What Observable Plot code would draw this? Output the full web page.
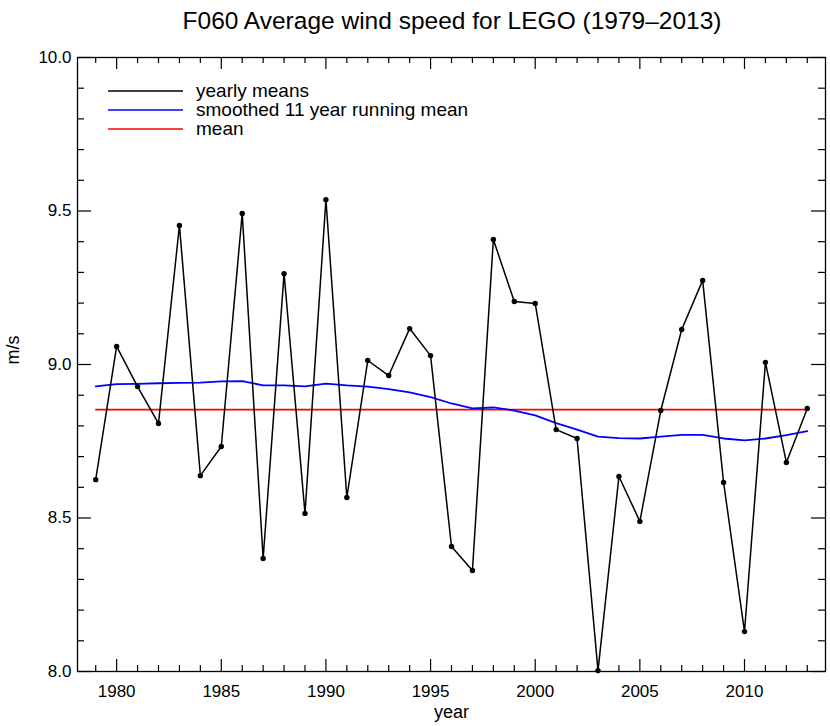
<!DOCTYPE html>
<html>
<head>
<meta charset="utf-8">
<script src="https://cdn.jsdelivr.net/npm/d3@7"></script>
<script src="https://cdn.jsdelivr.net/npm/@observablehq/plot@0.6"></script>
<style>
  html, body { margin: 0; padding: 0; background: #fff; }
  #wrap { position: relative; width: 830px; height: 726px; font-family: "Liberation Sans", Arial, sans-serif; color: #000; }
  #title { position: absolute; left: 452px; top: 7px; transform: translateX(-50%); white-space: nowrap; font-size: 24.5px; line-height: 28px; }
  #chart { position: absolute; left: 0; top: 40px; }
  #legend { position: absolute; left: 108px; top: 81px; font-size: 19px; }
  .item { display: flex; align-items: center; height: 19px; }
  .item svg { margin-right: 13px; }
</style>
</head>
<body>
<div id="wrap">
  <div id="title">F060 Average wind speed for LEGO (1979–2013)</div>
  <div id="chart"></div>
  <div id="legend"></div>
</div>
<script>
// ---- data ----
const years = [1979, 1980, 1981, 1982, 1983, 1984, 1985, 1986, 1987, 1988, 1989, 1990, 1991, 1992, 1993, 1994, 1995, 1996, 1997, 1998, 1999, 2000, 2001, 2002, 2003, 2004, 2005, 2006, 2007, 2008, 2009, 2010, 2011, 2012, 2013];
const yearlyMeans = [8.625, 9.059, 8.928, 8.808, 9.453, 8.638, 8.733, 9.492, 8.368, 9.296, 8.515, 9.537, 8.567, 9.013, 8.964, 9.117, 9.029, 8.407, 8.329, 9.407, 9.205, 9.199, 8.788, 8.759, 8.003, 8.635, 8.489, 8.850, 9.114, 9.274, 8.616, 8.130, 9.007, 8.681, 8.857];
const smoothedMean = [8.929, 8.936, 8.937, 8.939, 8.940, 8.941, 8.945, 8.946, 8.932, 8.932, 8.929, 8.938, 8.932, 8.928, 8.920, 8.909, 8.894, 8.873, 8.857, 8.860, 8.850, 8.834, 8.809, 8.788, 8.765, 8.760, 8.759, 8.765, 8.771, 8.771, 8.759, 8.753, 8.759, 8.770, 8.783];
const overallMean = 8.853;

// ---- ticks ----
const xMajorTicks = [1980, 1985, 1990, 1995, 2000, 2005, 2010];
const xMinorTicks = [1979, 1981, 1982, 1983, 1984, 1986, 1987, 1988, 1989, 1991, 1992, 1993, 1994, 1996, 1997, 1998, 1999, 2001, 2002, 2003, 2004, 2006, 2007, 2008, 2009, 2011, 2012, 2013];
const yMajorTicks = [8.0, 8.5, 9.0, 9.5, 10.0];
const yMinorTicks = [8.1, 8.2, 8.3, 8.4, 8.6, 8.7, 8.8, 8.9, 9.1, 9.2, 9.3, 9.4, 9.6, 9.7, 9.8, 9.9];

// ---- legend entries ----
const legendLabels = ["yearly means", "smoothed 11 year running mean", "mean"];
const legendColors = ["#000000", "#0000ff", "#ff0000"];

const rows = years.map((yr, i) => ({year: yr, value: yearlyMeans[i], smooth: smoothedMean[i]}));

const W = 830, H = 686, ML = 77, MR = 5, MT = 17, MB = 55;
const innerW = W - ML - MR, innerH = H - MT - MB;
const tk = {stroke: "#000", strokeWidth: 1.2};

const chart = Plot.plot({
  width: W,
  height: H,
  marginLeft: ML,
  marginRight: MR,
  marginTop: MT,
  marginBottom: MB,
  style: {fontFamily: "Liberation Sans, Arial, sans-serif", fontSize: "17px", color: "#000", background: "#fff"},
  x: {domain: [1978.13, 2013.87], axis: null},
  y: {domain: [8, 10], axis: null},
  marks: [
    // bottom / top year ticks (inward)
    Plot.tickX(xMajorTicks, {x: d => d, insetTop: innerH - 12, ...tk}),
    Plot.tickX(xMinorTicks, {x: d => d, insetTop: innerH - 6, ...tk}),
    Plot.tickX(xMajorTicks, {x: d => d, insetBottom: innerH - 12, ...tk}),
    Plot.tickX(xMinorTicks, {x: d => d, insetBottom: innerH - 6, ...tk}),
    // left / right value ticks (inward)
    Plot.tickY(yMajorTicks, {y: d => d, insetRight: innerW - 14, ...tk}),
    Plot.tickY(yMinorTicks, {y: d => d, insetRight: innerW - 7, ...tk}),
    Plot.tickY(yMajorTicks, {y: d => d, insetLeft: innerW - 14, ...tk}),
    Plot.tickY(yMinorTicks, {y: d => d, insetLeft: innerW - 7, ...tk}),
    // tick labels
    Plot.axisX({ticks: xMajorTicks, tickSize: 0, tickPadding: 13, tickFormat: d => String(d), fontSize: 17, label: null}),
    Plot.axisY({ticks: yMajorTicks, tickSize: 0, tickPadding: 6, tickFormat: d3.format(".1f"), fontSize: 17, label: null}),
    Plot.text(["year"], {frameAnchor: "bottom", dy: 41, lineAnchor: "middle", fontSize: 18}),
    Plot.text(["m/s"], {frameAnchor: "left", dx: -64, rotate: -90, lineAnchor: "middle", fontSize: 18}),
    // data
    Plot.ruleY([overallMean], {x1: years[0], x2: years[years.length - 1], stroke: "#ff0000", strokeWidth: 1.6}),
    Plot.line(rows, {x: "year", y: "smooth", stroke: "#0000ff", strokeWidth: 1.8}),
    Plot.line(rows, {x: "year", y: "value", stroke: "#000", strokeWidth: 1.5}),
    Plot.dot(rows, {x: "year", y: "value", r: 2.7, fill: "#000"}),
    Plot.frame({stroke: "#000", strokeWidth: 1.3})
  ]
});
document.getElementById("chart").appendChild(chart);

const legend = document.getElementById("legend");
legendLabels.forEach((label, i) => {
  const item = document.createElement("div");
  item.className = "item";
  item.innerHTML = `<svg width="75" height="4"><line x1="0" x2="75" y1="2" y2="2" stroke="${legendColors[i]}" stroke-width="1.6"/></svg><span>${label}</span>`;
  legend.appendChild(item);
});
</script>
</body>
</html>
